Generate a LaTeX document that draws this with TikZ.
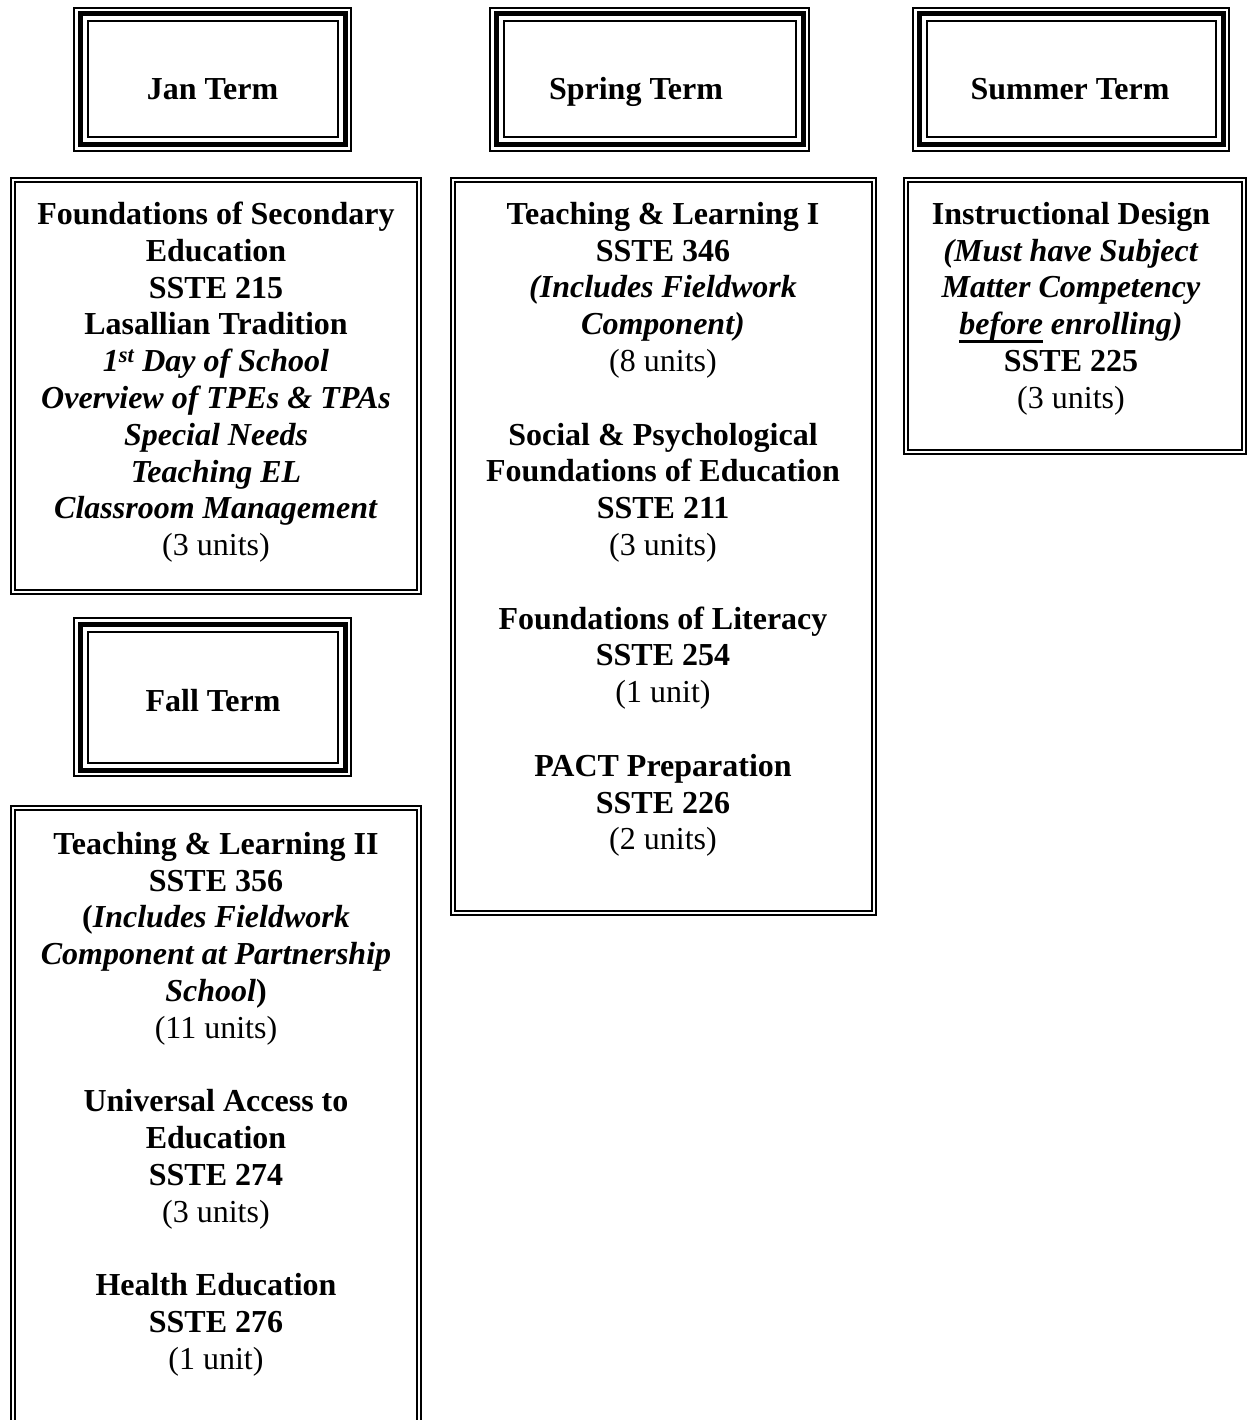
\documentclass[tikz,border=0pt]{standalone}
\usepackage{fontspec}
\setmainfont{Liberation Serif}
\newcommand\mythickul[1]{\setbox0\hbox{#1}\rlap{\rule[-8pt]{\wd0}{3pt}}\box0\relax}
\tikzset{
  termbox/.style={draw, rectangle, line width=5pt, inner sep=0pt, outer sep=0pt},
  coursebox/.style={draw, rectangle, line width=2pt, double, double distance=2pt, inner sep=0pt, outer sep=0pt},
  lbl/.style={font=\fontsize{32}{36.8}\selectfont\bfseries, inner sep=0pt, outer sep=0pt, align=center}
}
\begin{document}
\begin{tikzpicture}[x=1pt,y=-1pt]
\clip (0,0) rectangle (1249,1420);
\fill[white] (0,0) rectangle (1249,1420);

% term title boxes
\node[termbox, minimum width=265pt, minimum height=131pt] (jan) at (212.5,79.5) {};
\node[termbox, minimum width=307pt, minimum height=131pt] (spr) at (649.5,79.5) {};
\node[termbox, minimum width=304pt, minimum height=131pt] (sum) at (1071,79.5) {};
\node[termbox, minimum width=265pt, minimum height=146pt] (fall) at (212.5,697) {};
\foreach \b in {jan,spr,sum,fall}{
  \draw[line width=1.5pt] ([shift={(-6,-6)}]\b.north west) rectangle ([shift={(6,6)}]\b.south east);
  \draw[line width=2pt] ([shift={(7.5,7.5)}]\b.north west) rectangle ([shift={(-7.5,-7.5)}]\b.south east);
}
\node[lbl, anchor=base] (janlbl) at (212.5,100) {Jan Term};
\node[lbl, anchor=base] (sprlbl) at (636,100) {Spring Term};
\node[lbl, anchor=base] (sumlbl) at (1070,100) {Summer Term};
\node[lbl, anchor=base] (falllbl) at (213,711) {Fall Term};

% course boxes
\node[coursebox, minimum width=406pt, minimum height=412pt] (janc) at (216,386) {};
\node[coursebox, minimum width=421pt, minimum height=733pt] (sprc) at (663.5,546.5) {};
\node[coursebox, minimum width=338pt, minimum height=272pt] (sumc) at (1075,316) {};
\node[coursebox, minimum width=406pt, minimum height=640pt] (fallc) at (216,1128) {};

% course texts
\node[lbl, anchor=north] (jant) at (216,202) {Foundations of Secondary\\
Education\\
SSTE 215\\
Lasallian Tradition\\
\textit{1\textsuperscript{st} Day of School}\\
\textit{Overview of TPEs \& TPAs}\\
\textit{Special Needs}\\
\textit{Teaching EL}\\
\textit{Classroom Management}\\
{\mdseries (3 units)}};

\node[lbl, anchor=north] (sprt) at (663,202) {Teaching \& Learning I\\
SSTE 346\\
\textit{(Includes Fieldwork}\\
\textit{Component)}\\
{\mdseries (8 units)}\\[36.8pt]
Social \& Psychological\\
Foundations of Education\\
SSTE 211\\
{\mdseries (3 units)}\\[36.8pt]
Foundations of Literacy\\
SSTE 254\\
{\mdseries (1 unit)}\\[36.8pt]
PACT Preparation\\
SSTE 226\\
{\mdseries (2 units)}};

\node[lbl, anchor=north] (sumt) at (1071,202) {Instructional Design\\
\textit{(Must have Subject}\\
\textit{Matter Competency}\\
\textit{\mythickul{before} enrolling)}\\
SSTE 225\\
{\mdseries (3 units)}};

\node[lbl, anchor=north] (fallt) at (216,832) {Teaching \& Learning II\\
SSTE 356\\
(\textit{Includes Fieldwork}\\
\textit{Component at Partnership}\\
\textit{School})\\
{\mdseries (11 units)}\\[36.8pt]
Universal Access to\\
Education\\
SSTE 274\\
{\mdseries (3 units)}\\[36.8pt]
Health Education\\
SSTE 276\\
{\mdseries (1 unit)}};
\end{tikzpicture}
\end{document}
